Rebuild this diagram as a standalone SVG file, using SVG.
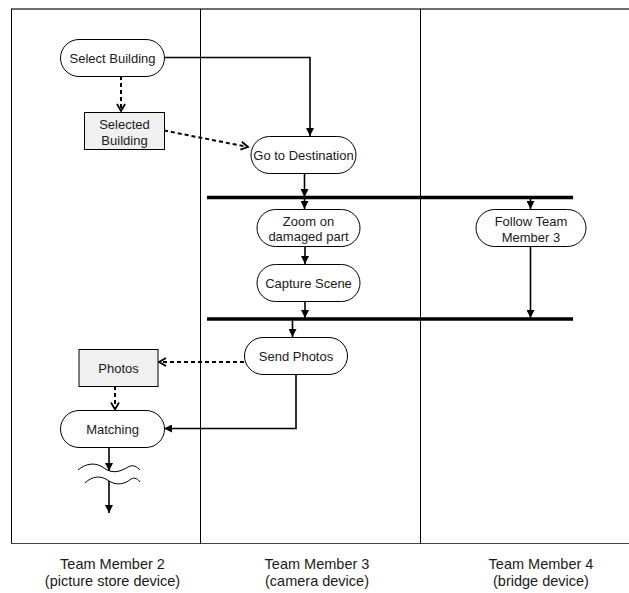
<svg xmlns="http://www.w3.org/2000/svg" width="629" height="593" viewBox="0 0 629 593">
  <defs>
    <style>
      .lane { stroke: #000; stroke-width: 1; fill: none; }
      .act { fill: #fff; stroke: #000; stroke-width: 1; }
      .obj { fill: #f0f0f0; stroke: #000; stroke-width: 1; }
      .txt { font-family: "Liberation Sans", Arial, sans-serif; font-size: 13px; fill: #1a1a1a; text-anchor: middle; dominant-baseline: central; }
      .cap { font-family: "Liberation Sans", Arial, sans-serif; font-size: 14.5px; fill: #1a1a1a; text-anchor: middle; }
      .flow { stroke: #000; stroke-width: 1.6; fill: none; }
      .obflow { stroke: #000; stroke-width: 2; fill: none; stroke-dasharray: 4 3; }
      .bar { stroke: #000; stroke-width: 3.5; }
      .wave { stroke: #000; stroke-width: 1; fill: none; }
    </style>
    <marker id="solidHead" markerUnits="userSpaceOnUse" markerWidth="9" markerHeight="8" refX="8" refY="4" orient="auto">
      <path d="M0,0 L8,4 L0,8 z" fill="#000"/>
    </marker>
    <marker id="openHead" markerUnits="userSpaceOnUse" markerWidth="10" markerHeight="10" refX="8" refY="4.5" orient="auto">
      <path d="M1,0.5 L8,4.5 L1,8.5" fill="none" stroke="#000" stroke-width="1.8"/>
    </marker>
  </defs>

  <!-- swimlane frame -->
  <g id="lanes">
    <line x1="11" y1="9" x2="629" y2="9" stroke="#6e6e6e" stroke-width="2"/>
    <line class="lane" x1="11.5" y1="9" x2="11.5" y2="544"/>
    <line x1="11" y1="543.5" x2="629" y2="543.5" stroke="#444" stroke-width="1.2"/>
    <line class="lane" x1="200.5" y1="9" x2="200.5" y2="544"/>
    <line class="lane" x1="420.5" y1="9" x2="420.5" y2="544"/>
  </g>

  <!-- synchronisation bars -->
  <g id="fork">
    <line class="bar" x1="207" y1="197.5" x2="573" y2="197.5"/>
  </g>
  <g id="join">
    <line class="bar" x1="207" y1="319" x2="573" y2="319"/>
  </g>

  <!-- connectors -->
  <g id="connectors">
    <path class="obflow" d="M121,76 V111" marker-end="url(#openHead)"/>
    <path class="obflow" d="M164,130.5 L248,147" marker-end="url(#openHead)"/>
    <path class="flow" d="M164,57.5 H310 V136" marker-end="url(#solidHead)"/>
    <path class="flow" d="M304.5,173 V197" marker-end="url(#solidHead)"/>
    <path class="flow" d="M304.5,199 V209" marker-end="url(#solidHead)"/>
    <path class="flow" d="M530.5,199 V209" marker-end="url(#solidHead)"/>
    <path class="flow" d="M305,246 V264" marker-end="url(#solidHead)"/>
    <path class="flow" d="M305,301 V318" marker-end="url(#solidHead)"/>
    <path class="flow" d="M530.5,246 V318" marker-end="url(#solidHead)"/>
    <path class="flow" d="M292.5,320.5 V337" marker-end="url(#solidHead)"/>
    <path class="obflow" d="M244,362 H159" marker-end="url(#openHead)"/>
    <path class="flow" d="M296,374 V428.5 H164" marker-end="url(#solidHead)"/>
    <path class="obflow" d="M115,386 V409.5" marker-end="url(#openHead)"/>
    <path class="flow" d="M109,447 V471" marker-end="url(#solidHead)"/>
    <path class="wave" d="M78,470 C86,463 96,462 104,468 C112,474 120,472 128,467 C133,464 137,467 140,470"/>
    <path class="wave" d="M85,483 C92,476 101,475 109,481 C117,486 125,484 131,479 C135,477 138,479 140,482"/>
    <path class="flow" d="M109,481 V513" marker-end="url(#solidHead)"/>
  </g>

  <!-- activities and objects -->
  <g id="select-building">
    <rect class="act" x="60.5" y="39.5" width="104" height="37" rx="18.5"/>
    <text class="txt" x="112.5" y="58">Select Building</text>
  </g>
  <g id="selected-building">
    <rect class="obj" x="84.5" y="112.5" width="80" height="37"/>
    <text class="txt" x="124.5" y="124">Selected</text>
    <text class="txt" x="124.5" y="140">Building</text>
  </g>
  <g id="go-to-destination">
    <rect class="act" x="251" y="136.5" width="105" height="37" rx="18.5"/>
    <text class="txt" x="303.5" y="155">Go to Destination</text>
  </g>
  <g id="zoom-damaged">
    <rect class="act" x="257" y="209.5" width="103" height="37" rx="18.5"/>
    <text class="txt" x="308.5" y="221.5">Zoom on</text>
    <text class="txt" x="308.5" y="236.5">damaged part</text>
  </g>
  <g id="capture-scene">
    <rect class="act" x="257" y="264.5" width="103" height="37" rx="18.5"/>
    <text class="txt" x="308.5" y="283">Capture Scene</text>
  </g>
  <g id="follow-team-member">
    <rect class="act" x="476" y="209.5" width="110" height="37" rx="18.5"/>
    <text class="txt" x="531" y="221">Follow Team</text>
    <text class="txt" x="531" y="237">Member 3</text>
  </g>
  <g id="send-photos">
    <rect class="act" x="244.5" y="337.5" width="103" height="37" rx="18.5"/>
    <text class="txt" x="296" y="356">Send Photos</text>
  </g>
  <g id="photos">
    <rect class="obj" x="79" y="349.5" width="79" height="37"/>
    <text class="txt" x="118.5" y="368">Photos</text>
  </g>
  <g id="matching">
    <rect class="act" x="60.5" y="410.5" width="104" height="37" rx="18.5"/>
    <text class="txt" x="112.5" y="429">Matching</text>
  </g>

  <!-- lane captions -->
  <g id="captions">
    <text class="cap" x="112.5" y="569">Team Member 2</text>
    <text class="cap" x="112.5" y="585.5">(picture store device)</text>
    <text class="cap" x="317" y="569">Team Member 3</text>
    <text class="cap" x="317" y="585.5">(camera device)</text>
    <text class="cap" x="541" y="569">Team Member 4</text>
    <text class="cap" x="541" y="585.5">(bridge device)</text>
  </g>
</svg>
